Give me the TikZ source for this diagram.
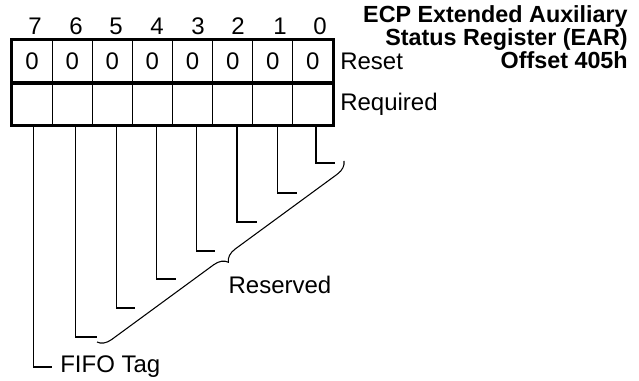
\documentclass[tikz,border=0pt]{standalone}
\usepackage{fontspec}
\setmainfont{Liberation Sans}
\usetikzlibrary{decorations.pathreplacing}

\begin{document}
\begin{tikzpicture}[x=0.75pt,y=-0.75pt]

% ---------- common style ----------
\tikzstyle{cell}=[draw=black,line width=0.8pt,minimum width=30.1pt,minimum height=31.9pt,inner sep=0pt,font=\fontsize{18}{20}\selectfont]
\tikzstyle{bitno}=[inner sep=0pt,font=\fontsize{18}{20}\selectfont]
\tikzstyle{lbl}=[inner sep=0pt,font=\fontsize{18}{20}\selectfont]
\tikzstyle{frame}=[draw=black,line width=2.6pt]
\tikzstyle{lead}=[draw=black,line width=0.8pt]
\tikzstyle{curly}=[draw=black,line width=0.8pt,decorate,decoration={brace,amplitude=10pt}]

\useasboundingbox (0,0) rectangle (639,381);

% ================== title ==================
\node[align=right,anchor=north east,inner sep=0pt,font=\fontsize{17.5}{14}\selectfont\bfseries]
      (ttl) at (628,5) {ECP Extended Auxiliary\\Status Register (EAR)\\Offset 405h};

% ================== register: reset row ==================
\node[cell] (r7) at ( 32.1,61.2) {0};
\node[cell] (r6) at ( 72.2,61.2) {0};
\node[cell] (r5) at (112.3,61.2) {0};
\node[cell] (r4) at (152.4,61.2) {0};
\node[cell] (r3) at (192.6,61.2) {0};
\node[cell] (r2) at (232.7,61.2) {0};
\node[cell] (r1) at (272.8,61.2) {0};
\node[cell] (r0) at (312.9,61.2) {0};

% ================== register: required row ==================
\node[cell] (q7) at ( 32.1,103.8) {};
\node[cell] (q6) at ( 72.2,103.8) {};
\node[cell] (q5) at (112.3,103.8) {};
\node[cell] (q4) at (152.4,103.8) {};
\node[cell] (q3) at (192.6,103.8) {};
\node[cell] (q2) at (232.7,103.8) {};
\node[cell] (q1) at (272.8,103.8) {};
\node[cell] (q0) at (312.9,103.8) {};

% thick frame + row divider
\draw[frame] (r7.north west) rectangle (q0.south east);
\draw[frame] (r7.south west) -- (r0.south east);

% bit numbers
\node[bitno] (b7) at ( 35,26) {7};
\node[bitno] (b6) at ( 76,26) {6};
\node[bitno] (b5) at (116,26) {5};
\node[bitno] (b4) at (157,26) {4};
\node[bitno] (b3) at (198,26) {3};
\node[bitno] (b2) at (238,26) {2};
\node[bitno] (b1) at (280,26) {1};
\node[bitno] (b0) at (320,26) {0};

% row labels
\node[lbl,anchor=west] (rst) at (340,61) {Reset};
\node[lbl,anchor=west] (req) at (340,104) {Required};

% ================== bit fields ==================
\node[lbl,anchor=west,inner xsep=6pt] (fifo) at (52,367) {FIFO Tag};
\node[lbl] (rsv) at (280,285) {Reserved};

% ends of the reserved leads
\coordinate (e6) at ( 97,337);
\coordinate (e5) at (135,308);
\coordinate (e4) at (176,279);
\coordinate (e3) at (215,251);
\coordinate (e2) at (257,222);
\coordinate (e1) at (297,193);
\coordinate (e0) at (335,163);

\draw[lead] ([xshift=0.8pt]q7.south) |- (fifo.west);
\draw[lead] ([xshift=2.8pt]q6.south) |- (e6);
\draw[lead] ([xshift=2.8pt]q5.south) |- (e5);
\draw[lead] ([xshift=2.8pt]q4.south) |- (e4);
\draw[lead] ([xshift=2.6pt]q3.south) |- (e3);
\draw[lead] ([xshift=3.2pt]q2.south) |- (e2);
\draw[lead] ([xshift=3.2pt]q1.south) |- (e1);
\draw[lead] ([xshift=2.3pt]q0.south) |- (e0);

% brace over the reserved bits
\coordinate (bt) at (344,161);
\coordinate (bb) at ( 97,342);
\draw[curly] (bt) -- (bb);

\end{tikzpicture}
\end{document}
